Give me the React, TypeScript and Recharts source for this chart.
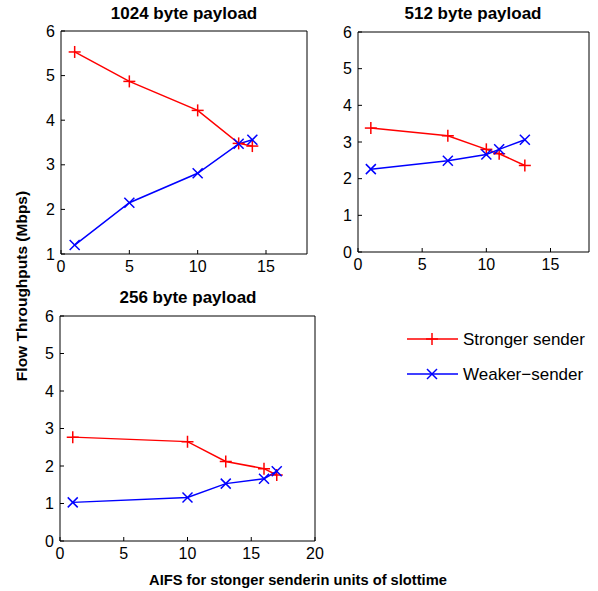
import React from 'react';
import { LineChart, Line, XAxis, YAxis } from 'recharts';

// AIFS values (x) and throughputs (Mbps) per payload size
const aifs1024 = [1, 5, 10, 13, 14];
const strong1024 = [5.53, 4.87, 4.22, 3.48, 3.42];
const weak1024 = [1.2, 2.15, 2.81, 3.47, 3.56];

const aifs512 = [1, 7, 10, 11, 13];
const strong512 = [3.38, 3.17, 2.8, 2.68, 2.36];
const weak512 = [2.26, 2.49, 2.66, 2.8, 3.06];

const aifs256 = [1, 10, 13, 16, 17];
const strong256 = [2.77, 2.65, 2.12, 1.93, 1.76];
const weak256 = [1.03, 1.16, 1.53, 1.66, 1.86];

const xTicks18 = [0, 5, 10, 15];
const xTicks20 = [0, 5, 10, 15, 20];
const yTicks1to6 = [1, 2, 3, 4, 5, 6];
const yTicks0to6 = [0, 1, 2, 3, 4, 5, 6];

const RED = '#ff0000';
const BLUE = '#0000ff';
const FONT = '"Liberation Sans", Arial, Helvetica, sans-serif';

const toRows = (xs: number[], s: number[], w: number[]) =>
  xs.map((x, i) => ({ x, strong: s[i], weak: w[i] }));

const PlusDot = (props: any) => {
  const { cx, cy } = props;
  if (cx == null || cy == null) return null;
  return (
    <g>
      <line x1={cx - 6} x2={cx + 6} y1={cy} y2={cy} stroke={RED} strokeWidth={1.5} />
      <line x1={cx} x2={cx} y1={cy - 6} y2={cy + 6} stroke={RED} strokeWidth={1.5} />
    </g>
  );
};

const CrossDot = (props: any) => {
  const { cx, cy } = props;
  if (cx == null || cy == null) return null;
  return (
    <g>
      <line x1={cx - 5} x2={cx + 5} y1={cy - 5} y2={cy + 5} stroke={BLUE} strokeWidth={1.5} />
      <line x1={cx - 5} x2={cx + 5} y1={cy + 5} y2={cy - 5} stroke={BLUE} strokeWidth={1.5} />
    </g>
  );
};

interface PanelProps {
  data: { x: number; strong: number; weak: number }[];
  left: number;
  top: number;
  width: number;
  height: number;
  margin: { top: number; right: number; bottom: number; left: number };
  yWidth: number;
  xDomain: [number, number];
  xTicks: number[];
  yDomain: [number, number];
  yTicks: number[];
}

const tickStyle = { fill: '#000', fontSize: 16, fontFamily: FONT };

const Panel: React.FC<PanelProps> = ({ data, left, top, width, height, margin, yWidth, xDomain, xTicks, yDomain, yTicks }) => (
  <div style={{ position: 'absolute', left, top }}>
    <LineChart width={width} height={height} data={data} margin={margin}>
      <XAxis
        xAxisId="b" dataKey="x" type="number" domain={xDomain} ticks={xTicks} allowDataOverflow
        height={25} tickSize={-4} tickMargin={11} tick={tickStyle}
        axisLine={{ stroke: '#000' }} tickLine={{ stroke: '#000' }}
      />
      <XAxis
        xAxisId="t" orientation="top" dataKey="x" type="number" domain={xDomain} ticks={xTicks}
        height={1} tickSize={-4} tick={false}
        axisLine={{ stroke: '#000' }} tickLine={{ stroke: '#000' }}
      />
      <YAxis
        yAxisId="l" type="number" domain={yDomain} ticks={yTicks} width={yWidth}
        tickSize={-4} tickMargin={10} tick={tickStyle}
        axisLine={{ stroke: '#000' }} tickLine={{ stroke: '#000' }}
      />
      <YAxis
        yAxisId="r" orientation="right" type="number" domain={yDomain} ticks={yTicks} width={1}
        tickSize={-4} tick={false}
        axisLine={{ stroke: '#000' }} tickLine={{ stroke: '#000' }}
      />
      <Line xAxisId="b" yAxisId="l" dataKey="strong" stroke={RED} strokeWidth={1.5} dot={<PlusDot />} isAnimationActive={false} />
      <Line xAxisId="b" yAxisId="l" dataKey="weak" stroke={BLUE} strokeWidth={1.5} dot={<CrossDot />} isAnimationActive={false} />
    </LineChart>
  </div>
);

const App: React.FC = () => {
  return (
    <div style={{ position: 'absolute', left: 0, top: 0, width: 598, height: 591, background: '#fff', fontFamily: FONT }}>
      <Panel
        data={toRows(aifs1024, strong1024, weak1024)}
        left={0} top={0} width={320} height={285}
        margin={{ top: 30, right: 12, bottom: 6, left: 0 }} yWidth={61}
        xDomain={[0, 18]} xTicks={xTicks18} yDomain={[1, 6]} yTicks={yTicks1to6}
      />
      <Panel
        data={toRows(aifs512, strong512, weak512)}
        left={300} top={0} width={298} height={285}
        margin={{ top: 31, right: 8, bottom: 8, left: 0 }} yWidth={58}
        xDomain={[0, 18]} xTicks={xTicks18} yDomain={[0, 6]} yTicks={yTicks0to6}
      />
      <Panel
        data={toRows(aifs256, strong256, weak256)}
        left={0} top={290} width={330} height={301}
        margin={{ top: 25, right: 14, bottom: 25, left: 0 }} yWidth={60}
        xDomain={[0, 20]} xTicks={xTicks20} yDomain={[0, 6]} yTicks={yTicks0to6}
      />
      <svg width={598} height={591} style={{ position: 'absolute', left: 0, top: 0, pointerEvents: 'none' }}>
        <g fontFamily={FONT} fontWeight="bold" fill="#000" textAnchor="middle">
          <text x={184} y={19} fontSize={17}>1024 byte payload</text>
          <text x={473} y={19} fontSize={17}>512 byte payload</text>
          <text x={188} y={303} fontSize={17}>256 byte payload</text>
          <text x={298} y={585} fontSize={14.7}>AIFS for stonger senderin units of slottime</text>
          <text transform="translate(27,286) rotate(-90)" fontSize={15.5}>Flow Throughputs (Mbps)</text>
        </g>
        <g fontFamily={FONT} fontSize={17} fill="#000">
          <line x1={407} x2={458} y1={339} y2={339} stroke={RED} strokeWidth={1.5} />
          <PlusDot cx={432} cy={339} />
          <text x={463} y={345}>Stronger sender</text>
          <line x1={407} x2={458} y1={374} y2={374} stroke={BLUE} strokeWidth={1.5} />
          <CrossDot cx={432} cy={374} />
          <text x={463} y={380}>Weaker−sender</text>
        </g>
      </svg>
    </div>
  );
};

export default App;
